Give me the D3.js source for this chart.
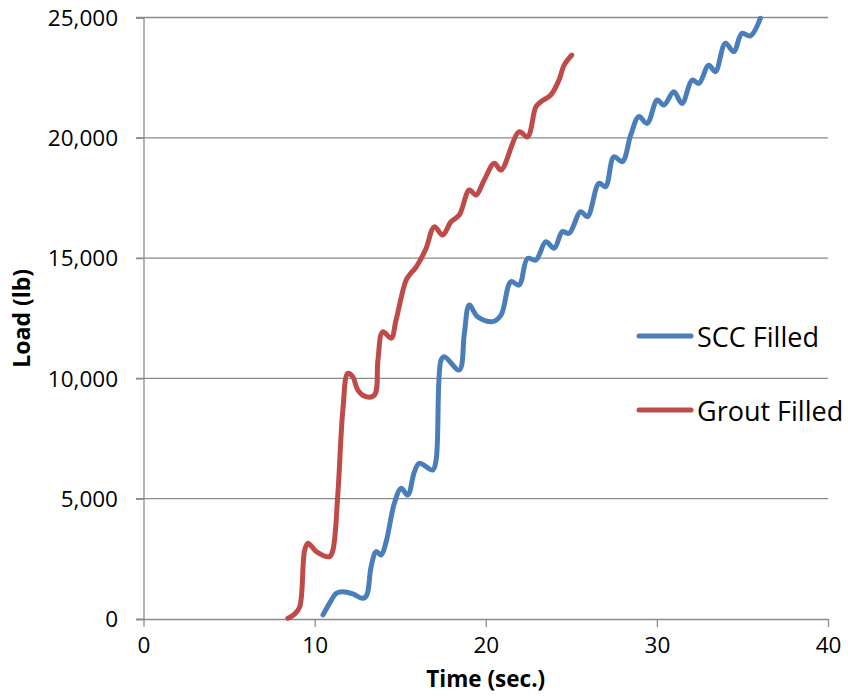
<!DOCTYPE html>
<html>
<head>
<meta charset="utf-8">
<script src="https://cdn.jsdelivr.net/npm/d3@7"></script>
<style>
  html, body { margin: 0; padding: 0; background: #fff; }
  svg { display: block; font-family: "Open Sans", "Liberation Sans", sans-serif; }
</style>
</head>
<body>
<svg id="chart" width="848" height="696"></svg>
<script>
// ---- data ----
const xTicks = [0, 10, 20, 30, 40];
const yTicks = [0, 5000, 10000, 15000, 20000, 25000];
const seriesNames = ["SCC Filled", "Grout Filled"];
const seriesColors = ["#4a7ebb", "#be4b48"];

const sccTime = [10.49, 10.87, 11.27, 11.65, 12.23, 12.82, 13.05, 13.3, 13.6, 13.89, 14.18, 14.66, 15.06, 15.44, 15.83, 16.12, 16.9, 17.1, 17.39, 17.58, 18.45, 18.75, 19.04, 19.52, 20.4, 20.89, 21.47, 21.95, 22.44, 22.93, 23.51, 24.0, 24.48, 24.87, 25.55, 25.94, 26.62, 27.0, 27.49, 27.98, 28.47, 28.95, 29.43, 30.02, 30.41, 30.99, 31.47, 32.06, 32.45, 33.03, 33.42, 34.0, 34.49, 34.97, 35.46, 36.05];
const sccLoad = [170, 650, 1070, 1130, 1040, 860, 1000, 2170, 2800, 2660, 3210, 4810, 5430, 5150, 6120, 6470, 6190, 6610, 10760, 10900, 10350, 11870, 13050, 12560, 12360, 12630, 14020, 13880, 14990, 14920, 15680, 15410, 16100, 16030, 16930, 16720, 18110, 17970, 19210, 19010, 20110, 20880, 20600, 21570, 21360, 21910, 21430, 22400, 22260, 23020, 22750, 23930, 23580, 24340, 24230, 24970];

const groutTime = [8.44, 8.83, 9.13, 9.42, 9.61, 10.1, 10.87, 11.07, 11.36, 11.65, 11.94, 12.23, 12.52, 13.0, 13.5, 13.7, 13.98, 14.47, 14.76, 15.35, 15.64, 15.83, 16.12, 16.51, 17.0, 17.48, 17.97, 18.45, 19.04, 19.43, 19.91, 20.5, 20.89, 21.95, 22.44, 22.93, 23.22, 23.8, 24.28, 24.58, 25.03];
const groutLoad = [30, 200, 510, 2870, 3150, 2800, 2590, 2870, 5220, 8690, 10210, 10070, 9520, 9240, 9310, 10760, 11940, 11670, 12430, 14090, 14390, 14530, 14850, 15400, 16300, 15960, 16510, 16790, 17830, 17620, 18250, 18940, 18660, 20250, 20040, 21290, 21500, 21780, 22400, 23020, 23440];

// ---- layout ----
const svg = d3.select("#chart");
const mLeft = 143.5, mRight = 828, mTop = 17.5, mBottom = 619;
const x = d3.scaleLinear().domain([0, 40]).range([mLeft, mRight]);
const y = d3.scaleLinear().domain([0, 25000]).range([mBottom, mTop]);
const gridColor = "#8a8a8a";

// gridlines
svg.append("g").selectAll("line").data(yTicks.filter(d => d > 0)).join("line")
  .attr("x1", mLeft - 7.5).attr("x2", mRight)
  .attr("y1", d => y(d)).attr("y2", d => y(d))
  .attr("stroke", gridColor).attr("stroke-width", 1.3);

// y axis
const yAxis = d3.axisLeft(y).tickValues(yTicks).tickSize(7.5).tickPadding(18)
  .tickFormat(d3.format(","));
const gy = svg.append("g").attr("transform", `translate(${mLeft},0)`).call(yAxis);
gy.select(".domain").attr("stroke", gridColor).attr("stroke-width", 1.3);
gy.selectAll(".tick line").attr("stroke", gridColor).attr("stroke-width", 1.3);
gy.selectAll(".tick text").attr("font-size", 22.5).attr("fill", "#000")
  .attr("font-family", "'Open Sans', sans-serif").attr("dy", "0.34em");

// x axis
const xAxis = d3.axisBottom(x).tickValues(xTicks).tickSize(8).tickPadding(10)
  .tickFormat(d3.format("d"));
const gx = svg.append("g").attr("transform", `translate(0,${mBottom})`).call(xAxis);
gx.select(".domain").attr("stroke", gridColor).attr("stroke-width", 1.3)
  .attr("d", `M${mLeft - 7.5},0.5H${mRight}`);
gx.selectAll(".tick line").attr("stroke", gridColor).attr("stroke-width", 1.3);
gx.selectAll(".tick text").attr("font-size", 22.5).attr("fill", "#000")
  .attr("font-family", "'Open Sans', sans-serif");

// axis titles
svg.append("text")
  .attr("x", (mLeft + mRight) / 2).attr("y", 687)
  .attr("text-anchor", "middle").attr("font-weight", "bold").attr("font-size", 22.5)
  .text("Time (sec.)");
svg.append("text")
  .attr("transform", `translate(30,${(mTop + mBottom) / 2}) rotate(-90)`)
  .attr("text-anchor", "middle").attr("font-weight", "bold").attr("font-size", 23)
  .text("Load (lb)");

// series
const series = [
  { name: seriesNames[0], color: seriesColors[0], pts: sccTime.map((t, i) => [t, sccLoad[i]]) },
  { name: seriesNames[1], color: seriesColors[1], pts: groutTime.map((t, i) => [t, groutLoad[i]]) }
];
const line = d3.line().x(d => x(d[0])).y(d => y(d[1])).curve(d3.curveCatmullRom.alpha(0.5));
svg.append("g").selectAll("path").data(series).join("path")
  .attr("d", d => line(d.pts))
  .attr("fill", "none").attr("stroke", d => d.color)
  .attr("stroke-width", 5).attr("stroke-linejoin", "round").attr("stroke-linecap", "round");

// legend
const legendY = [336, 410];
const lg = svg.append("g").selectAll("g").data(series).join("g")
  .attr("transform", (d, i) => `translate(0,${legendY[i]})`);
lg.append("line").attr("x1", 639).attr("x2", 691).attr("y1", 0).attr("y2", 0)
  .attr("stroke", d => d.color).attr("stroke-width", 5).attr("stroke-linecap", "round");
lg.append("text").attr("x", 697).attr("y", 11).attr("font-size", 27).attr("fill", "#000")
  .text(d => d.name);
</script>
</body>
</html>
